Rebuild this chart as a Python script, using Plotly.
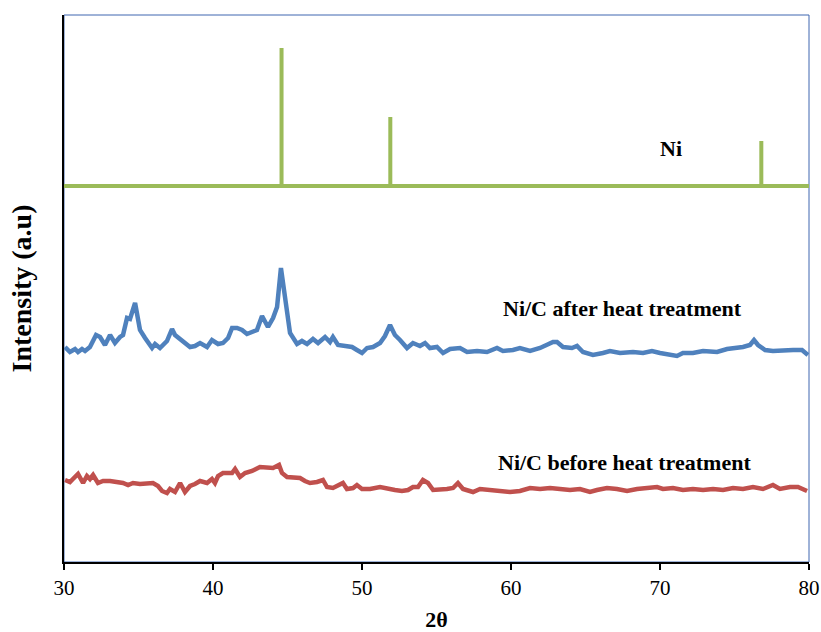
import plotly.graph_objects as go

# 2θ positions and intensities (arbitrary units) for the three patterns
after_2theta = [30.07, 30.40, 30.74, 30.94, 31.21, 31.41, 31.74, 32.15, 32.42, 32.75,
                33.09, 33.42, 33.76, 33.96, 34.23, 34.43, 34.77, 34.90, 35.10, 35.44,
                35.91, 36.11, 36.44, 36.91, 37.25, 37.45, 37.79, 38.12, 38.46, 38.79,
                39.13, 39.60, 39.93, 40.34, 40.67, 41.01, 41.28, 41.61, 41.95, 42.28,
                42.62, 42.95, 43.29, 43.69, 44.03, 44.30, 44.56, 44.70, 44.97, 45.17,
                45.64, 45.97, 46.31, 46.71, 47.05, 47.52, 47.85, 48.05, 48.39, 48.86,
                49.33, 49.66, 50.00, 50.34, 50.74, 51.21, 51.54, 51.88, 52.21, 52.55,
                53.02, 53.42, 53.89, 54.23, 54.56, 55.03, 55.44, 55.91, 56.58, 57.05,
                57.72, 58.39, 59.06, 59.46, 60.13, 60.60, 61.28, 61.95, 62.48, 62.82,
                63.09, 63.49, 64.09, 64.43, 64.83, 65.50, 66.17, 66.64, 67.32, 68.19,
                68.86, 69.46, 70.00, 70.67, 71.14, 71.54, 72.21, 72.89, 73.83, 74.50,
                75.17, 75.57, 76.04, 76.31, 76.58, 77.05, 77.58, 78.26, 78.93, 79.53,
                79.93]
after_intensity = [215, 210, 213, 210, 213, 211, 215, 227, 225, 217,
                   227, 219, 225, 227, 244, 243, 259, 249, 232, 224,
                   214, 218, 214, 221, 233, 227, 223, 220, 215, 216,
                   219, 215, 222, 218, 219, 224, 234, 234, 232, 228,
                   230, 232, 246, 235, 244, 255, 294, 279, 245, 229,
                   218, 221, 218, 223, 219, 225, 220, 225, 217, 216,
                   215, 212, 209, 214, 215, 219, 226, 237, 227, 222,
                   214, 219, 216, 219, 214, 215, 209, 213, 214, 210,
                   211, 210, 214, 211, 212, 214, 211, 214, 217, 220,
                   220, 215, 214, 216, 210, 207, 209, 211, 209, 210,
                   209, 211, 209, 207, 206, 209, 209, 211, 210, 213,
                   214, 215, 217, 222, 217, 212, 211, 212, 212, 212,
                   207]

before_2theta = [30.07, 30.40, 30.60, 30.94, 31.28, 31.54, 31.74, 31.95, 32.28, 32.62,
                 33.09, 33.62, 33.96, 34.30, 34.63, 35.10, 35.57, 35.97, 36.31, 36.58,
                 36.91, 37.11, 37.45, 37.79, 38.12, 38.46, 38.79, 39.13, 39.60, 39.93,
                 40.13, 40.34, 40.67, 41.01, 41.28, 41.48, 41.81, 42.15, 42.62, 43.15,
                 43.62, 44.03, 44.43, 44.63, 44.97, 45.37, 45.84, 46.17, 46.51, 46.98,
                 47.38, 47.65, 48.05, 48.72, 48.99, 49.40, 49.66, 50.00, 50.54, 51.21,
                 51.74, 52.21, 52.68, 53.09, 53.42, 53.76, 54.09, 54.43, 54.77, 55.10,
                 55.70, 56.11, 56.44, 56.78, 57.45, 57.92, 58.59, 59.26, 59.93, 60.60,
                 61.28, 61.95, 62.62, 63.29, 63.96, 64.63, 65.30, 65.77, 66.44, 67.11,
                 67.79, 68.46, 69.13, 69.80, 70.20, 70.87, 71.54, 72.21, 72.89, 73.56,
                 74.23, 74.90, 75.57, 76.24, 76.91, 77.58, 78.05, 78.72, 79.26, 79.87]
before_intensity = [82, 80, 83, 88, 79, 86, 83, 87, 79, 81,
                    81, 80, 79, 77, 79, 78, 79, 79, 76, 71,
                    69, 73, 70, 79, 70, 76, 78, 81, 79, 83,
                    79, 86, 89, 89, 89, 93, 85, 89, 91, 95,
                    94, 94, 97, 89, 85, 85, 84, 81, 79, 80,
                    82, 75, 74, 79, 73, 74, 77, 73, 73, 75,
                    73, 72, 71, 72, 75, 75, 82, 79, 72, 72,
                    73, 74, 79, 73, 70, 73, 72, 70, 70, 71,
                    74, 73, 74, 73, 72, 73, 70, 72, 74, 73,
                    71, 73, 74, 75, 73, 74, 72, 73, 72, 73,
                    72, 74, 73, 75, 73, 77, 73, 75, 75, 71]

# Ni reference pattern: stick positions and heights above a flat baseline
ni_positions = [44.6, 51.9, 76.8]
ni_heights = [514, 445, 421]
ni_baseline = 376

x_range = [30, 80]
x_ticks = [30, 40, 50, 60, 70, 80]

# Build the stick trace: baseline running across with vertical spikes
ni_x = [x_range[0]]
ni_y = [ni_baseline]
for pos, h in zip(ni_positions, ni_heights):
    ni_x += [pos, pos, pos]
    ni_y += [ni_baseline, h, ni_baseline]
ni_x.append(x_range[1])
ni_y.append(ni_baseline)

fig = go.Figure()
fig.add_trace(go.Scatter(x=before_2theta, y=before_intensity, mode="lines",
                         line=dict(color="#C0504D", width=4.5), name="before",
                         cliponaxis=False))
fig.add_trace(go.Scatter(x=after_2theta, y=after_intensity, mode="lines",
                         line=dict(color="#4F81BD", width=4.5), name="after",
                         cliponaxis=False))
fig.add_trace(go.Scatter(x=ni_x, y=ni_y, mode="lines",
                         line=dict(color="#9BBB59", width=4), name="Ni",
                         cliponaxis=False))

serif = "Liberation Serif, Times New Roman, serif"
label_font = dict(family=serif, size=22, color="black")

fig.add_annotation(x=70.74, y=414, text="<b>Ni</b>", showarrow=False,
                   xref="x", yref="y", font=label_font)
fig.add_annotation(x=67.5, y=254, text="<b>Ni/C after heat treatment</b>",
                   showarrow=False, xref="x", yref="y", font=label_font)
fig.add_annotation(x=67.65, y=100, text="<b>Ni/C before heat treatment</b>",
                   showarrow=False, xref="x", yref="y", font=label_font)

# thin frame along the top and right of the plotting area
fig.add_shape(type="rect", xref="paper", yref="paper", x0=0, y0=0, x1=1, y1=1,
              line=dict(color="#3E66B0", width=1), layer="below")

fig.update_layout(
    width=821, height=632,
    margin=dict(l=64, r=12, t=15, b=70),
    paper_bgcolor="white", plot_bgcolor="white",
    showlegend=False,
    font=dict(family=serif, color="black"),
    xaxis=dict(range=x_range, tickvals=x_ticks, showgrid=False, zeroline=False,
               automargin=False,
               showline=True, linecolor="black", linewidth=2,
               ticks="outside", ticklen=6, tickwidth=1.5, tickcolor="black",
               tickfont=dict(family=serif, size=21, color="black"),
               title=dict(text="<b>2θ</b>", font=dict(family=serif, size=22),
                          standoff=22)),
    yaxis=dict(range=[0, 547], showticklabels=False, showgrid=False, zeroline=False,
               automargin=False,
               showline=True, linecolor="black", linewidth=2, ticks="",
               title=dict(text="<b>Intensity (a.u)</b>",
                          font=dict(family=serif, size=28), standoff=22)),
)

fig.write_html("out.html")
